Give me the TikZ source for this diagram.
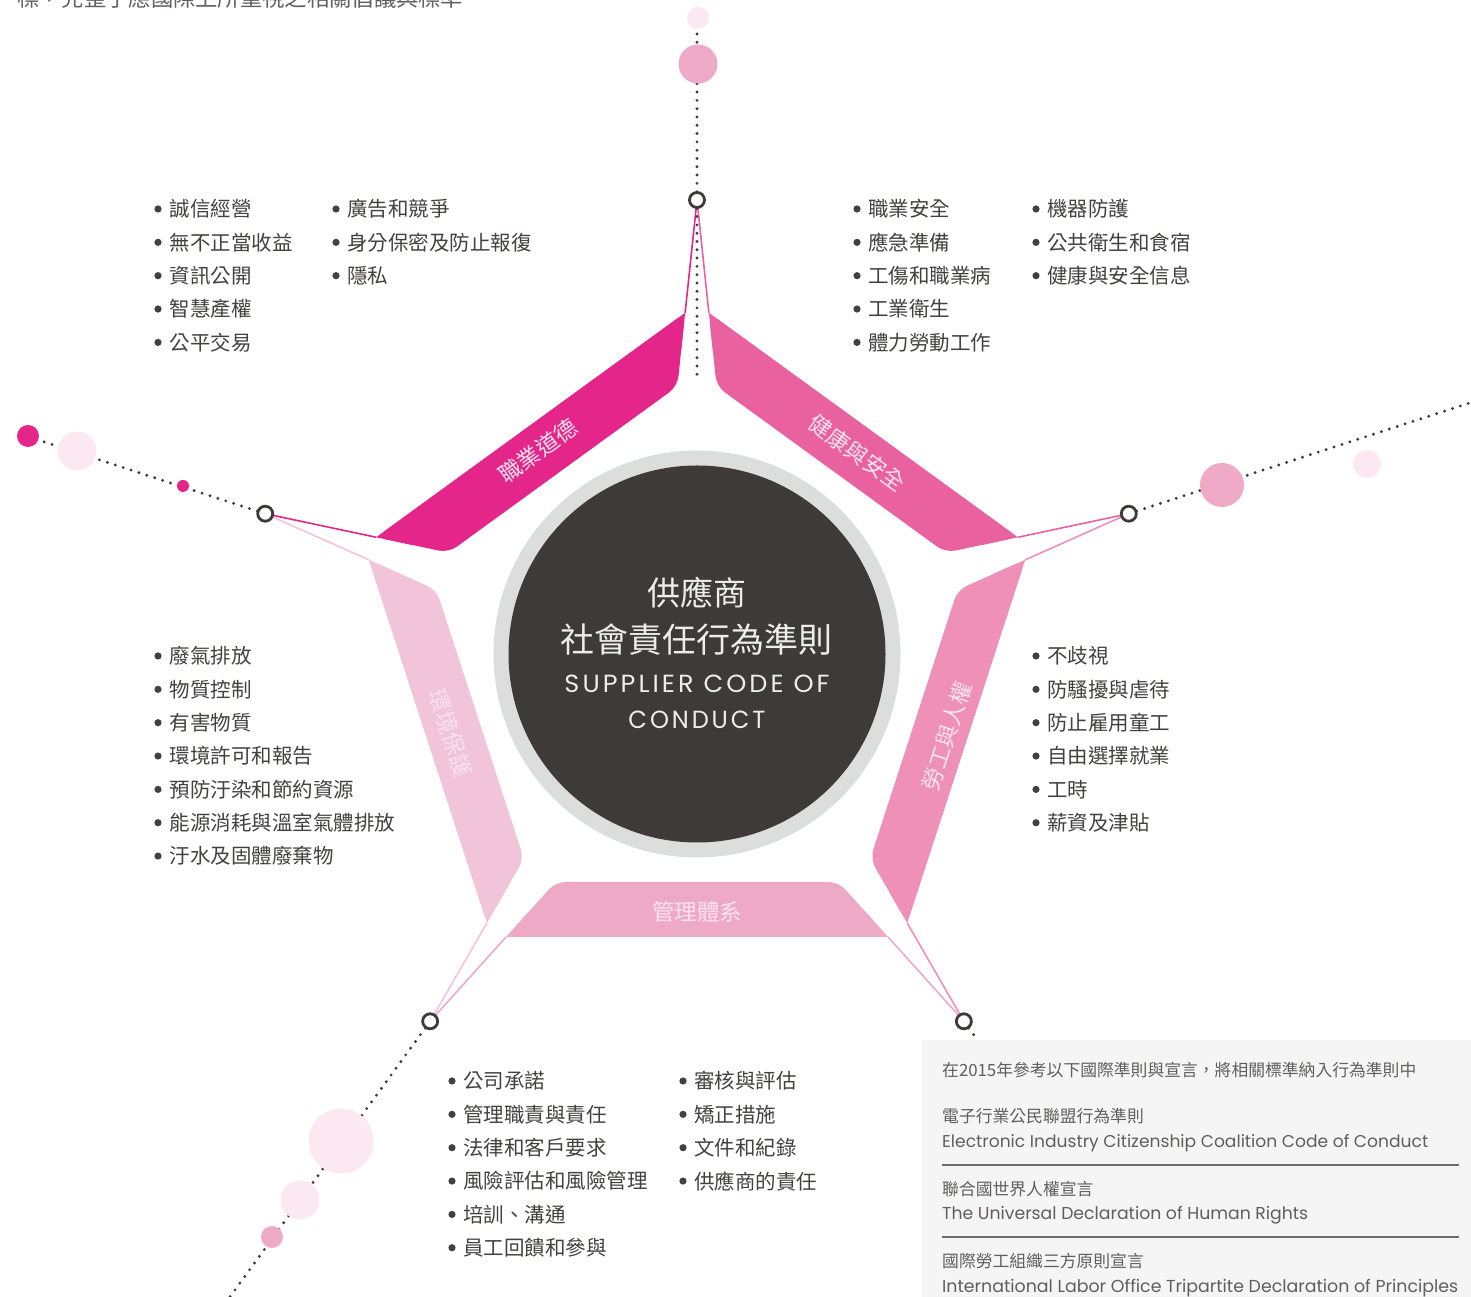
\documentclass[tikz,border=0pt]{standalone}
\usepackage{fontspec}
\setmainfont{Noto Sans CJK TC}
\newfontfamily\cjk{Noto Sans CJK TC}
\newfontfamily\geo{Poppins}
\usetikzlibrary{calc}
\definecolor{cA}{HTML}{E4268A}
\definecolor{cB}{HTML}{E9629F}
\definecolor{cC}{HTML}{EE90B8}
\definecolor{cD}{HTML}{EEA9C6}
\definecolor{cE}{HTML}{F2C4D9}
\definecolor{bl}{HTML}{FBE8F1}
\definecolor{bp}{HTML}{EEAAC7}
\definecolor{txt}{HTML}{444040}
\definecolor{boxtxt}{HTML}{605E5E}
\definecolor{dotc}{HTML}{3E3A39}
\definecolor{ring}{HTML}{DCDDDD}
\definecolor{dark}{HTML}{3E3A39}
\definecolor{ctr}{HTML}{EDEDED}
\definecolor{lbl}{HTML}{FBE3EE}
\definecolor{boxbg}{HTML}{F4F5F4}
\definecolor{sep}{HTML}{6E6C6C}

\newcommand\mkband[5]{%
  \coordinate (#5P1) at ($(C)+(#1:454)$);
  \coordinate (#5P2) at ($(C)+(#2:454)$);
  \coordinate (#5e1) at ($(#5P1)+(#1+186:100)$);
  \coordinate (#5e2) at ($(#5P2)+(#2+174:100)$);
  \coordinate (#5o1) at ($(C)+(#3:283)+(#3+90:400)$);
  \coordinate (#5o2) at ($(C)+(#3:283)+(#3-90:400)$);
  \coordinate (#5i1) at ($(C)+(#3:228)+(#3+90:400)$);
  \coordinate (#5i2) at ($(C)+(#3:228)+(#3-90:400)$);
  \coordinate (#5A1) at (intersection of #5P1--#5e1 and #5o1--#5o2);
  \coordinate (#5B1) at (intersection of #5P1--#5e1 and #5i1--#5i2);
  \coordinate (#5A2) at (intersection of #5P2--#5e2 and #5o1--#5o2);
  \coordinate (#5B2) at (intersection of #5P2--#5e2 and #5i1--#5i2);
  \fill[#4, rounded corners=10pt] (#5A1) -- (#5A2) -- (#5B2) -- (#5B1) -- cycle;
  \fill[#4] (#5A1) -- (#5A2) -- ($(#5A2)!0.5!(#5B2)$) -- ($(#5A1)!0.5!(#5B1)$) -- cycle;
  \draw[#4, line width=1.6pt] (#5P1) -- (#5A1);
  \draw[#4, line width=1.6pt] (#5P2) -- (#5A2);
}

\newcommand\mklist[5]{%
  \foreach \t [count=\i] in {#5} {
    \fill[txt] (#1,{#3-33.35*(\i-1)}) circle (3.6);
    \node[lst] (#4\i) at (#2,{#3-33.35*(\i-1)}) {\t};
  }
}

\tikzset{
  lst/.style={anchor=west, inner sep=0pt, font=\cjk\fontsize{20.5}{24}\selectfont, text=txt},
  boxt/.style={anchor=west, inner sep=0pt, font=\cjk\fontsize{16.8}{20}\selectfont, text=boxtxt},
  boxe/.style={anchor=base west, inner sep=0pt, text=boxtxt},
  bandlbl/.style={inner sep=0pt, font=\cjk\fontsize{22.5}{24}\selectfont, text=lbl},
  dotline/.style={draw=dotc, line width=3.2pt, line cap=round, dash pattern=on 0pt off 8.3pt},
  apex/.style={circle, draw=dotc, line width=2.8pt, fill=white, minimum size=15pt, inner sep=0pt},
  ctrt/.style={inner sep=0pt, text=ctr},
}

\begin{document}
\begin{tikzpicture}[x=1pt,y=1pt]
\useasboundingbox (0,0) rectangle (1471,1297);
\coordinate (C) at (697,643);
\coordinate (pT) at ($(C)+(90:454)$);
\coordinate (pR) at ($(C)+(18:454)$);
\coordinate (pBR) at ($(C)+(-54:454)$);
\coordinate (pBL) at ($(C)+(-126:454)$);
\coordinate (pL) at ($(C)+(162:454)$);

% bands
\mkband{162}{90}{126}{cA}{b1}
\mkband{90}{18}{54}{cB}{b2}
\mkband{18}{-54}{-18}{cC}{b3}
\mkband{-54}{-126}{-90}{cD}{b4}
\mkband{-126}{-198}{-162}{cE}{b5}

% dotted rays
\coordinate (eT) at ($(C)+(90:640)$);
\coordinate (eTin) at (697,917);
\coordinate (eR) at ($(C)+(18:830)$);
\coordinate (eL) at ($(C)+(162:703)$);
\coordinate (eBL) at ($(C)+(-126:810)$);
\coordinate (eBR) at ($(C)+(-54:520)$);
\draw[dotline] (pT) -- (eT);
\draw[dotline] (pT) -- (eTin);
\draw[dotline] (pR) -- (eR);
\draw[dotline] (pL) -- (eL);
\draw[dotline] (pBL) -- (eBL);
\draw[dotline] (pBR) -- (eBR);

% bubbles
\fill[bl] (698,1279) circle (11);
\fill[bp] (698,1233) circle (19.5);
\fill[bp] (1222,812) circle (22);
\fill[bl] (1367,833) circle (14);
\fill[cA] (28,861) circle (11);
\fill[bl] (77,846) circle (19.5);
\fill[cA] (183,811) circle (6);
\fill[bl] (341,156) circle (32.5);
\fill[bl] (300,97) circle (19.5);
\fill[bp] (272,60) circle (11);

% reference box
\fill[boxbg] (922,0) rectangle (1471,257);
\draw[sep, line width=1.5pt] (942,132) -- (1459,132);
\draw[sep, line width=1.5pt] (942,60) -- (1459,60);

% apex markers
\node[apex] (T) at (pT) {};
\node[apex] (R) at (pR) {};
\node[apex] (BR) at (pBR) {};
\node[apex] (BL) at (pBL) {};
\node[apex] (L) at (pL) {};

% centre
\fill[ring] (C) circle (203.5);
\fill[dark] (C) circle (188.5);
\node[ctrt, font=\cjk\fontsize{33}{36}\selectfont] (c1) at (697,704) {供應商};
\node[ctrt, font=\cjk\fontsize{34}{36}\selectfont] (c2) at (696,657) {社會責任行為準則};
\node[ctrt] (c3) at (697,613) {\resizebox{265pt}{17.5pt}{\geo\addfontfeature{LetterSpace=12}SUPPLIER CODE OF}};
\node[ctrt] (c4) at (697,577) {\resizebox{137pt}{17.5pt}{\geo\addfontfeature{LetterSpace=12}CONDUCT}};

% band labels
\node[bandlbl, rotate=36] (lb1) at (538,846) {職業道德};
\node[bandlbl, rotate=-36] (lb2) at (857,844) {健康與安全};
\node[bandlbl, rotate=72] (lb3) at (947,561) {勞工與人權};
\node[bandlbl] (lb4) at (697,385) {管理體系};
\node[bandlbl, rotate=-72] (lb5) at (451,564) {環境保護};

% lists
\mklist{158}{169.5}{1088}{la}{誠信經營,無不正當收益,資訊公開,智慧產權,公平交易}
\mklist{336}{347}{1088}{lb}{廣告和競爭,身分保密及防止報復,隱私}
\mklist{857}{868}{1088}{lc}{職業安全,應急準備,工傷和職業病,工業衛生,體力勞動工作}
\mklist{1036}{1047}{1088}{ld}{機器防護,公共衛生和食宿,健康與安全信息}
\mklist{1036}{1047}{641}{le}{不歧視,防騷擾與虐待,防止雇用童工,自由選擇就業,工時,薪資及津貼}
\mklist{158}{169.5}{641}{lf}{廢氣排放,物質控制,有害物質,環境許可和報告,預防汙染和節約資源,能源消耗與溫室氣體排放,汙水及固體廢棄物}
\mklist{452}{463}{216}{lg}{公司承諾,管理職責與責任,法律和客戶要求,風險評估和風險管理,培訓、溝通,員工回饋和參與}
\mklist{683}{694}{216}{lh}{審核與評估,矯正措施,文件和紀錄,供應商的責任}

% box texts
\node[boxt] (r0) at (942,227) {在2015年參考以下國際準則與宣言，將相關標準納入行為準則中};
\node[boxt] (r1) at (942,181) {電子行業公民聯盟行為準則};
\node[boxe] (r1e) at (942,149.5) {\resizebox{486pt}{!}{\geo\fontsize{15}{18}\selectfont Electronic Industry Citizenship Coalition Code of Conduct}};
\node[boxt] (r2) at (942,108) {聯合國世界人權宣言};
\node[boxe] (r2e) at (942,77.5) {\resizebox{366pt}{!}{\geo\fontsize{15}{18}\selectfont The Universal Declaration of Human Rights}};
\node[boxt] (r3) at (942,36) {國際勞工組織三方原則宣言};
\node[boxe] (r3e) at (942,4.5) {\resizebox{516pt}{!}{\geo\fontsize{15}{18}\selectfont International Labor Office Tripartite Declaration of Principles}};

% cut-off heading at top
\node[anchor=west, inner sep=0pt, font=\cjk\fontsize{22.3}{24}\selectfont, text=boxtxt] (cut) at (17,1299.5) {標，完整了應國際上所重視之相關倡議與標準};
\end{tikzpicture}
\end{document}
